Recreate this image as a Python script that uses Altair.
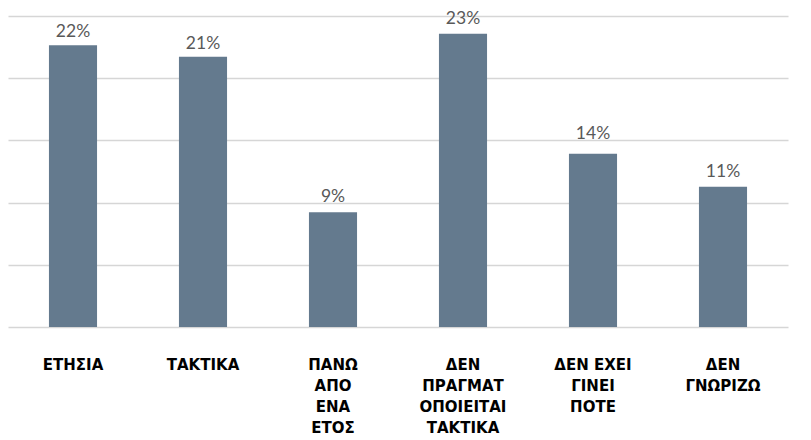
import altair as alt
import pandas as pd

categories = [
    "ΕΤΗΣΙΑ",
    "ΤΑΚΤΙΚΑ",
    "ΠΑΝΩ|ΑΠΟ|ΕΝΑ|ΕΤΟΣ",
    "ΔΕΝ|ΠΡΑΓΜΑΤ|ΟΠΟΙΕΙΤΑΙ|ΤΑΚΤΙΚΑ",
    "ΔΕΝ ΕΧΕΙ|ΓΙΝΕΙ|ΠΟΤΕ",
    "ΔΕΝ|ΓΝΩΡΙΖΩ",
]
bar_values = [22.1, 21.2, 9.0, 23.0, 13.6, 11.0]
label_pcts = [22, 21, 9, 23, 14, 11]

df = pd.DataFrame({"cat": categories, "value": bar_values, "pct": label_pcts})
df["label"] = df["pct"].astype(str) + "%"

y_max = 24.4
grid_vals = [round(i * y_max / 5, 3) for i in range(6)]

x_enc = alt.X(
    "cat:N",
    sort=categories,
    scale=alt.Scale(paddingInner=0.63, paddingOuter=0.315),
    axis=alt.Axis(
        title=None,
        labelAngle=0,
        domain=False,
        ticks=False,
        labelPadding=30,
        labelBaseline="top",
        labelExpr="split(datum.label, '|')",
        labelLineHeight=21,
        labelFont="DejaVu Sans",
        labelFontSize=15,
        labelFontWeight="bold",
        labelColor="#000000",
        labelAlign="center",
    ),
)

y_scale = alt.Scale(domain=[0, y_max], nice=False)

bars = alt.Chart(df).mark_bar(color="#647a8e").encode(
    x=x_enc,
    y=alt.Y(
        "value:Q",
        scale=y_scale,
        axis=alt.Axis(
            title=None,
            values=grid_vals,
            labels=False,
            ticks=False,
            domain=False,
            grid=True,
            gridColor="#d6d6d6",
            gridWidth=1.5,
        ),
    ),
)

texts = alt.Chart(df).mark_text(
    baseline="alphabetic",
    dy=-10,
    font="Lato",
    fontSize=17.5,
    color="#595959",
).encode(
    x=alt.X("cat:N", sort=categories),
    y=alt.Y("pct:Q", scale=y_scale),
    text="label:N",
)

chart = (
    alt.layer(bars, texts)
    .properties(
        width=780,
        height=311,
        autosize="none",
        padding={"left": 0, "top": 8, "right": 15, "bottom": 112},
    )
    .configure_view(stroke=None)
)

chart.save("out.html", embed_options={"renderer": "svg", "actions": False})
